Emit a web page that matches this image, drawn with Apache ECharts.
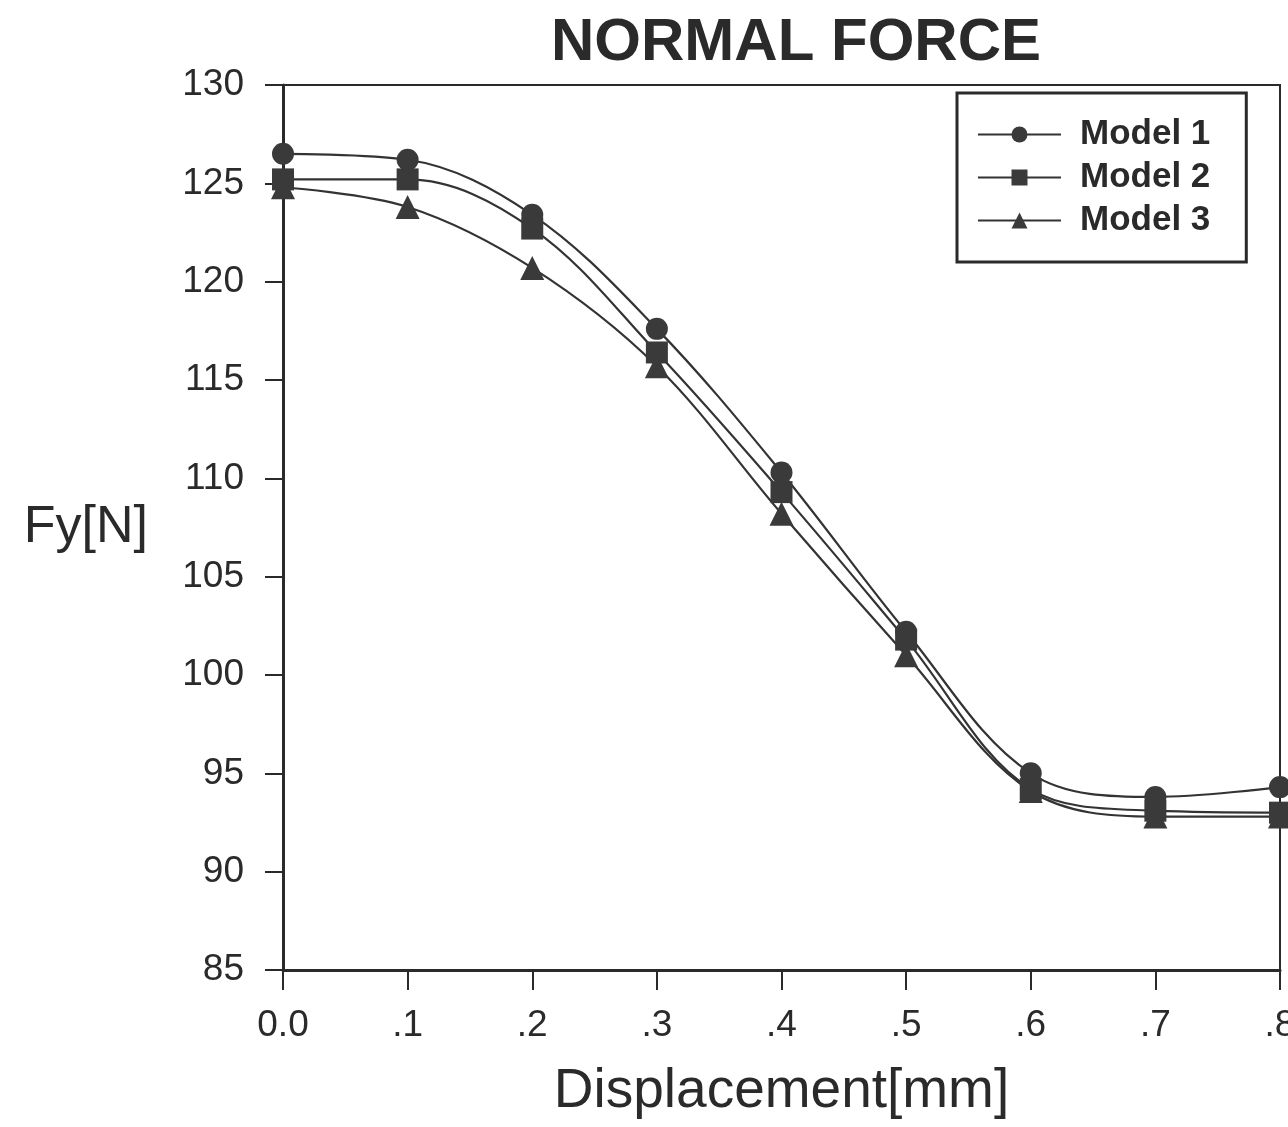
<!DOCTYPE html>
<html>
<head>
<meta charset="utf-8">
<script src="https://cdn.jsdelivr.net/npm/echarts@6/dist/echarts.min.js"></script>
<style>
  html, body { margin: 0; padding: 0; background: #fff; }
  #chart { width: 1288px; height: 1127px; }
</style>
</head>
<body>
<div id="chart"></div>
<script>
// displacement [mm]
const displacement = [0, 0.1, 0.2, 0.3, 0.4, 0.5, 0.6, 0.7, 0.8]
// normal force Fy [N]
const model1 = [126.5, 126.2, 123.4, 117.6, 110.3, 102.2, 95.0, 93.8, 94.3]
const model2 = [125.2, 125.2, 122.7, 116.4, 109.3, 101.8, 94.2, 93.1, 93.0]
const model3 = [124.8, 123.8, 120.7, 115.7, 108.2, 101.0, 94.1, 92.8, 92.8]
const seriesNames = ['Model 1', 'Model 2', 'Model 3']
const symbols = ['circle', 'rect', 'triangle']

const chart = echarts.init(document.getElementById('chart'))
const font = 'Arial, "Liberation Sans", sans-serif'
const ink = '#2a2a2a'

const toPairs = vals => displacement.map((x, i) => [x, vals[i]])

const option = {
  backgroundColor: '#fff',
  animation: false,
  title: {
    text: 'NORMAL FORCE',
    left: 791,
    textAlign: 'center',
    top: 8,
    textStyle: { fontFamily: font, fontSize: 60, fontWeight: 'bold', color: ink }
  },
  legend: {
    data: seriesNames,
    orient: 'vertical',
    left: 957,
    top: 93,
    padding: [24, 36, 24, 20],
    itemGap: 8,
    itemWidth: 83,
    itemHeight: 20,
    borderColor: ink,
    borderWidth: 3,
    textStyle: { fontFamily: font, fontSize: 35, fontWeight: 'bold', color: ink, padding: [0, 0, 0, 14] }
  },
  grid: {
    left: 283,
    right: 8,
    top: 85,
    bottom: 157,
    outerBoundsMode: 'none',
    show: true,
    borderColor: ink,
    borderWidth: 2
  },
  xAxis: {
    type: 'value',
    min: 0,
    max: 0.8,
    interval: 0.1,
    name: 'Displacement[mm]',
    nameLocation: 'middle',
    nameGap: 94,
    nameTextStyle: { fontFamily: font, fontSize: 55, color: ink },
    axisLine: { lineStyle: { color: ink, width: 3 } },
    axisTick: { show: true, length: 20, lineStyle: { color: ink, width: 2 } },
    splitLine: { show: false },
    axisLabel: {
      fontFamily: font,
      fontSize: 37,
      color: ink,
      margin: 37,
      formatter: v => v === 0 ? '0.0' : v.toFixed(1).replace(/^0/, '')
    }
  },
  yAxis: {
    type: 'value',
    min: 85,
    max: 130,
    interval: 5,
    name: 'Fy[N]',
    nameLocation: 'middle',
    nameRotate: 0,
    nameGap: 135,
    nameTextStyle: { fontFamily: font, fontSize: 52, color: ink },
    axisLine: { show: true, lineStyle: { color: ink, width: 3 } },
    axisTick: { show: true, length: 18, lineStyle: { color: ink, width: 2 } },
    splitLine: { show: false },
    axisLabel: { fontFamily: font, fontSize: 37, color: ink, margin: 39 }
  },
  series: [model1, model2, model3].map((vals, i) => ({
    name: seriesNames[i],
    type: 'line',
    data: toPairs(vals),
    smooth: 0.35,
    symbol: symbols[i],
    symbolSize: i === 2 ? 24 : 22,
    lineStyle: { color: '#333', width: 2.2 },
    itemStyle: { color: '#3a3a3a', borderWidth: 0 },
    clip: false
  }))
}

chart.setOption(option)
</script>
</body>
</html>
